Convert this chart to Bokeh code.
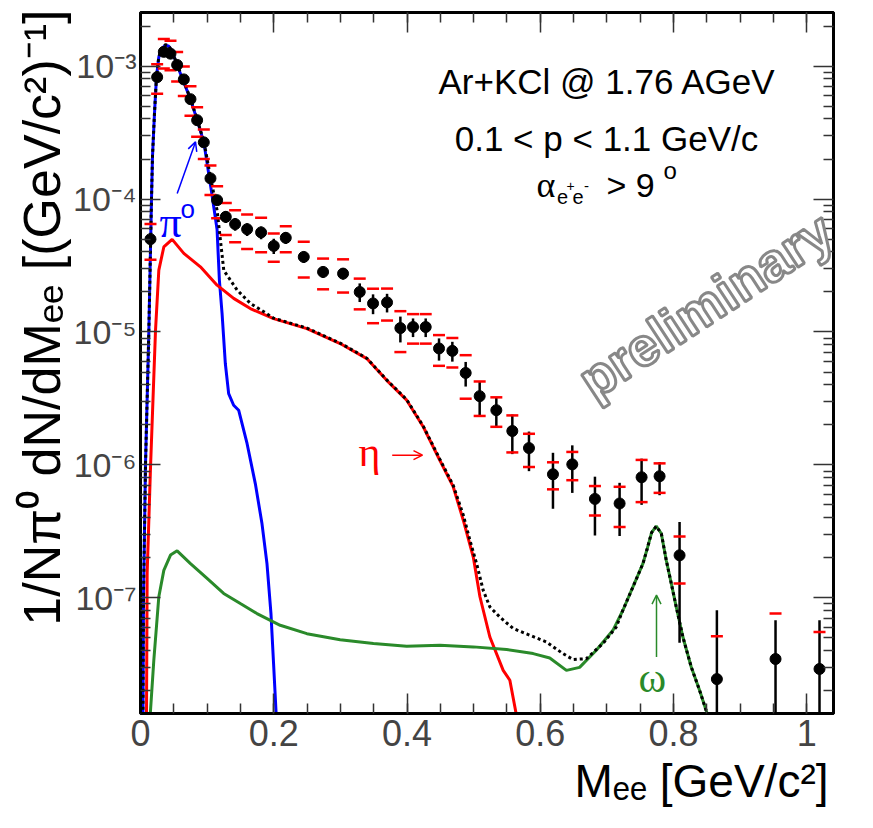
import numpy as np
from bokeh.plotting import figure
from bokeh.models import Range1d, FixedTicker, LinearAxis, LogAxis, Label, Arrow, OpenHead, Title
from bokeh.embed import file_html
from bokeh.resources import INLINE

# ---------------- data ----------------
# measured dielectron points
m_x = [0.015, 0.025, 0.035, 0.045, 0.055, 0.065, 0.075, 0.085, 0.095,
       0.105, 0.115, 0.128, 0.142, 0.16, 0.181, 0.2, 0.218, 0.245, 0.274,
       0.304, 0.329, 0.349, 0.37, 0.39, 0.409, 0.428, 0.448, 0.468, 0.488,
       0.509, 0.534, 0.558, 0.583, 0.619, 0.648, 0.682, 0.719, 0.752, 0.779,
       0.809, 0.865, 0.953, 1.019]
m_y = [4.99e-5, 8.26e-4, 1.28e-3, 1.24e-3, 1.02e-3, 7.94e-4, 5.64e-4, 3.92e-4, 2.67e-4,
       1.43e-4, 9.81e-5, 7.35e-5, 6.48e-5, 5.93e-5, 5.61e-5, 4.44e-5, 5.11e-5, 3.67e-5, 2.83e-5,
       2.75e-5, 2.0e-5, 1.64e-5, 1.67e-5, 1.07e-5, 1.09e-5, 1.09e-5, 7.52e-6, 7.21e-6, 4.92e-6,
       3.29e-6, 2.58e-6, 1.80e-6, 1.34e-6, 8.51e-7, 1.01e-6, 5.55e-7, 5.13e-7, 8.08e-7, 8.22e-7,
       2.09e-7, 2.45e-8, 3.47e-8, 2.92e-8]
# relative statistical and systematic errors
stat_rel = [0.07, 0.05, 0.05, 0.05, 0.05, 0.05, 0.05, 0.05, 0.06,
            0.07, 0.08, 0.10, 0.11, 0.11, 0.11, 0.13, 0.10, 0.10, 0.10,
            0.10, 0.16, 0.17, 0.16, 0.22, 0.16, 0.16, 0.19, 0.17, 0.21,
            0.28, 0.25, 0.33, 0.33, 0.45, 0.39, 0.47, 0.43, 0.38, 0.28,
            0.78, 2.29, 0.96, 1.32]
sys_rel = [0.30, 0.25, 0.25, 0.25, 0.25, 0.25, 0.25, 0.25, 0.25,
           0.25, 0.27, 0.27, 0.27, 0.29, 0.29, 0.24, 0.22, 0.30, 0.26,
           0.28, 0.26, 0.29, 0.27, 0.34, 0.25, 0.25, 0.26, 0.25, 0.36,
           0.29, 0.25, 0.31, 0.28, 0.23, 0.24, 0.25, 0.335, 0.35, 0.25,
           0.385, 1.1, 1.2, 0.9]

# pi0 Dalitz (blue)
pi0_x = [0.0037, 0.0045, 0.0075, 0.0125, 0.0165, 0.018, 0.021, 0.024, 0.0275, 0.0325,
         0.0375, 0.0425, 0.0475, 0.055, 0.0634, 0.075, 0.085, 0.095, 0.107, 0.1149,
         0.1184, 0.1224, 0.1273, 0.1323, 0.1398, 0.1473, 0.1599, 0.1723, 0.1823, 0.1898,
         0.1958, 0.1997, 0.2037]
pi0_y = [1.3e-8, 1.0e-7, 1.0e-6, 1.0e-5, 1.0e-4, 2.09e-4, 4.41e-4, 8.3e-4, 1.17e-3, 1.36e-3,
         1.44e-3, 1.41e-3, 1.28e-3, 1.02e-3, 7.9e-4, 5.64e-4, 3.92e-4, 2.68e-4, 1.1e-4, 5.9e-5,
         2.45e-5, 1.38e-5, 5.79e-6, 3.44e-6, 2.81e-6, 2.58e-6, 1.45e-6, 7.24e-7, 3.62e-7, 1.81e-7,
         7.62e-8, 3.2e-8, 1.3e-8]

# eta Dalitz (red)
eta_x = [0.009, 0.010, 0.015, 0.0225, 0.0275, 0.035, 0.0475, 0.065, 0.0899, 0.1149,
         0.1398, 0.1648, 0.1997, 0.2497, 0.2996, 0.3396, 0.3695, 0.3995, 0.4245, 0.4494,
         0.4694, 0.4844, 0.4994, 0.5094, 0.5243, 0.5443, 0.5543, 0.5643]
eta_y = [1.3e-8, 1.53e-7, 9.5e-7, 1.02e-5, 2.92e-5, 4.36e-5, 4.97e-5, 3.9e-5, 3.09e-5, 2.25e-5,
         1.79e-5, 1.5e-5, 1.26e-5, 1.06e-5, 8.19e-6, 6.31e-6, 4.33e-6, 3.07e-6, 1.93e-6, 1.08e-6,
         6.83e-7, 3.84e-7, 2.03e-7, 1.02e-7, 5.08e-8, 2.85e-8, 2.4e-8, 1.3e-8]

# omega (green)
omega_x = [0.0145, 0.02, 0.0275, 0.035, 0.045, 0.055, 0.075, 0.0999, 0.1248, 0.1498,
           0.1748, 0.2097, 0.2497, 0.2996, 0.3496, 0.3995, 0.4494, 0.4994, 0.5494, 0.5893,
           0.6142, 0.6392, 0.659, 0.684, 0.709, 0.724, 0.739, 0.754, 0.760, 0.767,
           0.774, 0.7816, 0.789, 0.7966, 0.804, 0.814, 0.8265, 0.839, 0.8514]
omega_y = [1.3e-8, 3.4e-8, 1.02e-7, 1.61e-7, 2.1e-7, 2.26e-7, 1.81e-7, 1.4e-7, 1.08e-7, 9.06e-8,
           7.62e-8, 6.22e-8, 5.38e-8, 4.85e-8, 4.53e-8, 4.32e-8, 4.4e-8, 4.28e-8, 4.09e-8, 3.81e-8,
           3.53e-8, 2.85e-8, 3.0e-8, 4.04e-8, 5.7e-8, 8.07e-8, 1.21e-7, 1.81e-7, 2.3e-7, 3.1e-7,
           3.46e-7, 3.05e-7, 1.92e-7, 1.28e-7, 8.55e-8, 5.08e-8, 3.02e-8, 2.02e-8, 1.3e-8]

# full cocktail (black dotted)
cock_x = [0.0037, 0.0045, 0.0075, 0.0125, 0.0165, 0.018, 0.021, 0.024, 0.0275, 0.0325,
          0.0375, 0.0425, 0.0475, 0.055, 0.0634, 0.075, 0.085, 0.095, 0.107, 0.115,
          0.125, 0.145, 0.165, 0.185, 0.1997, 0.2497, 0.2996, 0.3396, 0.3695, 0.3995,
          0.4245, 0.4494, 0.4694, 0.4844, 0.4944, 0.5044, 0.5143, 0.5243, 0.539, 0.559,
          0.584, 0.609, 0.634, 0.649, 0.669, 0.694, 0.714, 0.724, 0.739, 0.754,
          0.760, 0.767, 0.774, 0.7816, 0.789, 0.7966, 0.804, 0.814, 0.8265, 0.839, 0.8514]
cock_y = [1.3e-8, 1.0e-7, 1.0e-6, 1.0e-5, 1.0e-4, 2.1e-4, 4.45e-4, 8.35e-4, 1.18e-3, 1.37e-3,
          1.45e-3, 1.42e-3, 1.29e-3, 1.03e-3, 8.0e-4, 5.7e-4, 3.97e-4, 2.72e-4, 1.3e-4, 8.2e-5,
          2.9e-5, 2.07e-5, 1.64e-5, 1.42e-5, 1.27e-5, 1.07e-5, 8.25e-6, 6.35e-6, 4.36e-6, 3.1e-6,
          1.95e-6, 1.1e-6, 7.0e-7, 4.2e-7, 2.71e-7, 1.81e-7, 1.14e-7, 8.55e-8, 7.2e-8, 5.9e-8,
          5.24e-8, 4.66e-8, 3.81e-8, 3.44e-8, 3.49e-8, 4.53e-8, 6.04e-8, 8.1e-8, 1.21e-7, 1.81e-7,
          2.3e-7, 3.1e-7, 3.46e-7, 3.05e-7, 1.92e-7, 1.28e-7, 8.55e-8, 5.08e-8, 3.02e-8, 2.02e-8, 1.3e-8]

x_major = [0.0, 0.2, 0.4, 0.6, 0.8, 1.0]
x_labels = ["0", "0.2", "0.4", "0.6", "0.8", "1"]
y_decades = [-8, -7, -6, -5, -4, -3]
x_title = "Mₑₑ [GeV/c²]"
y_title = "1/Nπ⁰ dN/dMₑₑ [(GeV/c²)⁻¹]"

x_start, x_end = 0.0, 1.04
y_start, y_end = 1.35e-8, 2.53e-3

FONT = "Liberation Sans"
GREEK = "Liberation Serif"
BLUE, RED, GREEN = "#0000ff", "#ff0000", "#2a8a2a"
SUP = str.maketrans("-0123456789", "⁻⁰¹²³⁴⁵⁶⁷⁸⁹")

# ---------------- figure ----------------
p = figure(width=865, height=820, x_range=Range1d(x_start, x_end),
           y_range=Range1d(y_start, y_end), y_axis_type="log",
           output_backend="svg", toolbar_location=None,
           min_border_left=140, min_border_right=32, min_border_top=12, min_border_bottom=107)
p.xgrid.visible = False
p.ygrid.visible = False
p.outline_line_color = "black"
p.outline_line_width = 3
p.background_fill_color = "white"
p.border_fill_color = "white"

x_minor = [round(0.05 * k, 3) for k in range(0, 21)]
y_major = [10.0 ** e for e in y_decades]
y_minor = [k * 10.0 ** e for e in range(-9, -2) for k in range(2, 10)]
xt = FixedTicker(ticks=x_major, minor_ticks=x_minor)
yt = FixedTicker(ticks=y_major, minor_ticks=y_minor)


def style_axis(ax, ticker, labels=True):
    ax.ticker = ticker
    ax.axis_line_width = 3
    ax.major_tick_in = 20
    ax.major_tick_out = 0
    ax.minor_tick_in = 10
    ax.minor_tick_out = 0
    ax.major_tick_line_width = 1.5
    ax.minor_tick_line_width = 1.5
    ax.major_tick_line_color = "#333333"
    ax.minor_tick_line_color = "#333333"
    if not labels:
        ax.major_label_text_font_size = "2px"
        ax.major_label_text_color = None
        ax.major_label_standoff = 0


# bottom axis with tick labels
style_axis(p.xaxis[0], xt)
p.xaxis[0].major_label_overrides = {v: s for v, s in zip(x_major, x_labels)}
p.xaxis[0].major_label_text_font = FONT
p.xaxis[0].major_label_text_font_size = "36px"
p.xaxis[0].major_label_standoff = 6

# left axis with 10^n labels
style_axis(p.yaxis[0], yt)
p.yaxis[0].major_label_overrides = {10.0 ** e: "10" + str(e).translate(SUP) for e in y_decades}
p.yaxis[0].major_label_text_font = FONT
p.yaxis[0].major_label_text_font_size = "34px"
p.yaxis[0].major_label_standoff = 4

top = LinearAxis()
style_axis(top, xt, labels=False)
p.add_layout(top, "above")
right = LogAxis()
style_axis(right, yt, labels=False)
p.add_layout(right, "right")

# axis titles, right/top aligned as in the original
p.add_layout(Title(text=x_title, align="right", offset=5, standoff=9, text_font=FONT,
                   text_font_size="46px", text_font_style="normal", text_color="black"), "below")
p.add_layout(Title(text=y_title, align="right", offset=-3, standoff=0, text_font=FONT,
                   text_font_size="52px", text_font_style="normal", text_color="black"), "left")

# ---------------- curves ----------------
p.line(pi0_x, pi0_y, line_color=BLUE, line_width=3)
p.line(eta_x, eta_y, line_color=RED, line_width=3)
p.line(omega_x, omega_y, line_color=GREEN, line_width=3)
p.line(cock_x, cock_y, line_color="black", line_width=3, line_dash="3 3")

# ---------------- data points ----------------
mx = np.array(m_x)
my = np.array(m_y)
st = np.array(stat_rel) * my
sy = np.array(sys_rel) * my
st_lo = np.maximum(my - st, y_start)
sy_lo = np.maximum(my - sy, y_start)
p.segment(x0=mx, y0=st_lo, x1=mx, y1=my + st, line_color="black", line_width=2.5)
p.scatter(np.concatenate([mx, mx]), np.concatenate([my + sy, sy_lo]), marker="dash",
          size=12, line_color=RED, line_width=2.5)
p.scatter(mx, my, marker="circle", size=11, fill_color="black", line_color="black")


# ---------------- texts inside the frame ----------------
def lab(sx, sy_, text, size, color="black", font=FONT, align="left", baseline="alphabetic",
        angle=0.0, **kw):
    p.add_layout(Label(x=sx, y=sy_, x_units="screen", y_units="screen", text=text,
                       text_font=font, text_font_size=f"{size}px", text_color=color,
                       text_align=align, text_baseline=baseline, angle=angle, **kw))


# frame-relative screen coordinates: image x - 140, 713.3 - image y
def S(ix, iy):
    return ix - 140.0, 713.3 - iy


lab(*S(607, 81.7), "Ar+KCl @ 1.76 AGeV", 35, align="center")
lab(*S(606, 138), "0.1 < p < 1.1 GeV/c", 35, align="center")
lab(*S(536, 185), "α", 36, font=GREEK)
lab(*S(556.5, 197), "e", 20)
lab(*S(566, 186), "+", 14)
lab(*S(572, 197), "e", 20)
lab(*S(583.5, 186), "-", 15)
lab(*S(606, 185), "> 9", 34)
lab(*S(663, 170), "o", 24)

# component labels
lab(*S(159, 222), "π", 44, color=BLUE, font=GREEK)
lab(*S(180, 209), "o", 26, color=BLUE)
lab(*S(358, 452), "η", 42, color=RED, font=GREEK)
lab(*S(638, 678), "ω", 42, color=GREEN, font=GREEK)

for (x0, y0, x1, y1, c) in [(176.7, 193.3, 195, 141.7, BLUE), (391.7, 455, 422, 455, RED),
                            (656, 656.7, 656, 595, GREEN)]:
    a0, b0 = S(x0, y0)
    a1, b1 = S(x1, y1)
    p.add_layout(Arrow(end=OpenHead(size=9, line_color=c, line_width=1.5),
                       x_start=a0, y_start=b0, x_end=a1, y_end=b1,
                       start_units="screen", end_units="screen",
                       line_color=c, line_width=1.5))

# watermark
lab(*S(705, 305), "preliminary", 54, color="white", font=FONT,
    align="center", baseline="middle", angle=0.58, text_font_style="bold",
    text_outline_color="#888888")

open("out.html", "w").write(file_html(p, INLINE))
